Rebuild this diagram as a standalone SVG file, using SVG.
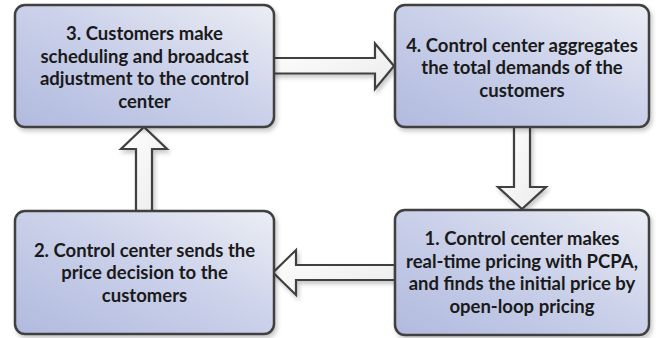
<svg xmlns="http://www.w3.org/2000/svg" width="656" height="338" viewBox="0 0 656 338">
<defs>
<linearGradient id="boxg" x1="0" y1="1" x2="1" y2="0">
<stop offset="0" stop-color="#b1badf"/>
<stop offset="0.55" stop-color="#ccd2ea"/>
<stop offset="1" stop-color="#eceef4"/>
</linearGradient>
<linearGradient id="arrg" x1="0" y1="0" x2="1" y2="1">
<stop offset="0" stop-color="#ffffff"/>
<stop offset="1" stop-color="#ebebeb"/>
</linearGradient>
<filter id="sh" x="-10%" y="-10%" width="120%" height="130%">
<feDropShadow dx="2" dy="3" stdDeviation="2" flood-color="#000" flood-opacity="0.22"/>
</filter>
</defs>
<style>
.box{fill:url(#boxg);stroke:#404040;stroke-width:2.5;filter:url(#sh)}
.arr{fill:url(#arrg);stroke:#404040;stroke-width:2.2;stroke-linejoin:miter;filter:url(#sh)}
.t{font-family:Lato,"Liberation Sans",sans-serif;font-weight:700;font-size:18.5px;fill:#1a1a1a;text-anchor:middle}
</style>
<g id="connectors">
<path class="arr" d="M273,58 H375 V43.5 L394,66 L375,89 V73.5 H273 Z"/>
<path class="arr" d="M136,211 V149 H121 L144,127 L167,149 H152 V211 Z"/>
<path class="arr" d="M514,127 V187 H498 L522,209 L546,187 H530 V127 Z"/>
<path class="arr" d="M395,265 H296 V250 L273,272.5 L296,295 V280 H395 Z"/>
</g>
<g id="node3">
<rect class="box" x="15" y="5" width="259" height="122" rx="10"/>
<text class="t" x="144.5" y="40">3. Customers make</text>
<text class="t" x="144.5" y="62.5">scheduling and broadcast</text>
<text class="t" x="144.5" y="85">adjustment to the control</text>
<text class="t" x="144.5" y="107.5">center</text>
</g>
<g id="node4">
<rect class="box" x="395" y="5" width="254" height="122" rx="10"/>
<text class="t" x="522" y="51.5">4. Control center aggregates</text>
<text class="t" x="522" y="74">the total demands of the</text>
<text class="t" x="522" y="96.5">customers</text>
</g>
<g id="node2">
<rect class="box" x="15" y="211" width="259" height="123" rx="10"/>
<text class="t" x="144.5" y="256.5">2. Control center sends the</text>
<text class="t" x="144.5" y="279">price decision to the</text>
<text class="t" x="144.5" y="301.5">customers</text>
</g>
<g id="node1">
<rect class="box" x="395" y="210" width="254" height="125" rx="10"/>
<text class="t" x="522" y="245">1. Control center makes</text>
<text class="t" x="522" y="267.5">real-time pricing with PCPA,</text>
<text class="t" x="522" y="290">and finds the initial price by</text>
<text class="t" x="522" y="312.5">open-loop pricing</text>
</g>
</svg>
